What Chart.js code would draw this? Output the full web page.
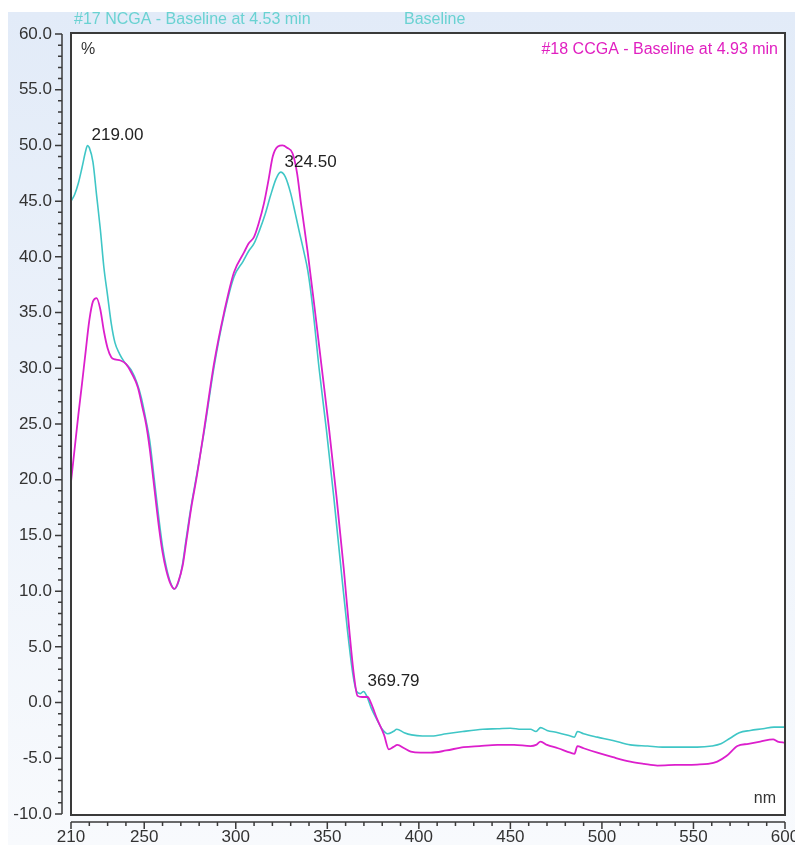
<!DOCTYPE html>
<html lang="en">
<head>
<meta charset="UTF-8">
<title>NCGA / CCGA UV spectra</title>
<script src="https://cdn.jsdelivr.net/npm/chart.js@4.4.1/dist/chart.umd.min.js"></script>
<style>
  html, body { margin: 0; padding: 0; background: #fff; }
  #chart { display: block; }
</style>
</head>
<body>
<canvas id="chart" width="795" height="845"></canvas>
<script>
// #17 NCGA spectrum (nm, %)
const ncgaNm = [210, 212, 214, 216, 218, 219, 220, 222, 224, 226, 228, 230, 232, 234, 236.5, 239, 243, 246, 248.5,
  251, 253, 255.5, 258, 260, 262, 264.5, 266.5, 268.5, 271, 273, 275.5, 278.5, 282.7, 288.2, 293.6, 299, 304, 307, 310,
  313, 316, 319, 322, 324.5, 327, 330, 332.5, 334.5, 337, 339.3, 342, 345.5, 349.5, 353.5, 357.5, 361, 364, 366, 368,
  369.8, 371.5, 374, 377, 380, 383, 386, 388, 392, 396, 402, 407, 415, 424, 435, 443, 450, 456, 461, 464,
  466.5, 470, 476, 482.8, 485, 486.6, 490, 497.5, 506, 515.5, 525, 533, 545, 552, 560, 565, 570, 575, 581, 588, 594, 600]
const ncgaPct = [45.0, 45.6, 46.6, 48.0, 49.5, 50.0, 49.8, 48.5, 45.5, 42.5, 39.0, 36.5, 34.0, 32.3, 31.3, 30.6, 29.8, 28.7, 27.3,
  25.3, 23.5, 20.0, 16.5, 14.0, 12.2, 10.7, 10.2, 10.7, 12.5, 14.8, 17.5, 20.3, 24.3, 30.2, 34.8, 38.2, 39.6, 40.5, 41.2,
  42.4, 43.8, 45.5, 47.0, 47.6, 47.2, 45.7, 43.9, 42.4, 40.6, 38.8, 35.5, 30.0, 24.5, 18.5, 12.0, 6.5, 2.5, 1.0, 0.8,
  1.0, 0.6, -0.5, -1.5, -2.4, -2.8, -2.6, -2.4, -2.7, -2.9, -3.0, -3.0, -2.8, -2.6, -2.4, -2.35, -2.3, -2.4, -2.4, -2.6,
  -2.25, -2.5, -2.7, -3.0, -3.1, -2.6, -2.8, -3.1, -3.4, -3.8, -3.9, -4.0, -4.0, -4.0, -3.9, -3.7, -3.2, -2.7, -2.5, -2.35, -2.2, -2.2]

// #18 CCGA spectrum (nm, %)
const ccgaNm = [210, 212, 214, 216, 218, 220, 222, 224, 226, 228, 230, 232, 234, 237, 240, 243, 246.5, 249, 251, 253,
  255, 258, 260, 262, 264.5, 266.5, 268.5, 271, 273, 276, 278.4, 282.7, 288.2, 293.6, 299, 304.5, 307, 310, 312.5, 315.4,
  318, 320.2, 323, 325.5, 328, 331, 333.5, 335.6, 339.3, 343, 347, 351, 355, 359, 362, 364.5, 366.5, 369, 372, 374,
  377, 381, 383.6, 386, 388.3, 392, 395.6, 401, 406.5, 415, 424.5, 433, 443, 452, 461, 464, 466.5, 470, 476, 482.8,
  485, 486.6, 490, 497.5, 506, 515.5, 523, 530.3, 540, 552, 558, 563, 568, 574, 580, 586.5, 593.5, 596, 600]
const ccgaPct = [19.8, 22.8, 25.8, 28.6, 31.5, 34.3, 36.0, 36.3, 35.3, 33.3, 31.8, 31.0, 30.8, 30.7, 30.4, 29.6, 28.3, 26.5, 25.0, 22.8,
  20.0, 15.8, 13.5, 11.9, 10.6, 10.2, 10.8, 12.3, 14.5, 17.8, 20.0, 24.5, 30.5, 35.0, 38.6, 40.4, 41.2, 41.8, 43.0, 44.8,
  47.0, 49.0, 49.9, 50.0, 49.8, 49.3, 47.5, 44.8, 40.4, 35.5, 30.0, 24.5, 18.5, 12.0, 6.5, 2.5, 0.6, 0.5, 0.5, -0.1,
  -1.4, -2.9, -4.2, -4.0, -3.8, -4.1, -4.4, -4.5, -4.5, -4.3, -4.0, -3.9, -3.8, -3.8, -3.9, -3.8, -3.5, -3.8, -4.1, -4.5,
  -4.6, -3.9, -4.1, -4.5, -4.9, -5.3, -5.5, -5.65, -5.6, -5.56, -5.5, -5.3, -4.8, -3.9, -3.7, -3.5, -3.3, -3.5, -3.6]

// axis ticks
const xTicks = [210, 250, 300, 350, 400, 450, 500, 550, 600]
const yTicks = [-10, -5, 0, 5, 10, 15, 20, 25, 30, 35, 40, 45, 50, 55, 60]

// peak annotations
const peakNm = [219, 324.5, 369.8]
const peakPct = [50.0, 47.6, 1.0]
const peakText = ['219.00', '324.50', '369.79']

const FONT = '"Liberation Sans", Arial, sans-serif'
const CYAN = '#3fc6c6'
const MAGENTA = '#dc1fcc'

const toPoints = (xs, ys) => xs.map((x, i) => ({ x: x, y: ys[i] }))

const frame = {
  id: 'frame',
  beforeDraw(chart) {
    const { ctx, chartArea: a } = chart
    ctx.save()
    ctx.fillStyle = '#fff'
    ctx.fillRect(0, 0, chart.width, chart.height)
    const g = ctx.createLinearGradient(0, 12, 0, chart.height)
    g.addColorStop(0, '#e2ebf8')
    g.addColorStop(1, '#f8fafd')
    ctx.fillStyle = g
    ctx.fillRect(8, 12, chart.width - 8, chart.height - 12)
    ctx.fillStyle = '#fff'
    ctx.fillRect(a.left, a.top, a.right - a.left, a.bottom - a.top)
    ctx.restore()
  },
  afterDatasetsDraw(chart) {
    const { ctx, chartArea: a } = chart
    const xs = chart.scales.x
    const ys = chart.scales.y
    ctx.save()
    // plot frame
    ctx.strokeStyle = '#3a3a3a'
    ctx.lineWidth = 2
    ctx.strokeRect(a.left, a.top - 1, a.right - a.left, a.bottom - a.top + 2)

    // y axis line with major/minor ticks
    ctx.lineWidth = 1.5
    const ax = a.left - 9
    ctx.beginPath()
    ctx.moveTo(ax, ys.getPixelForValue(60))
    ctx.lineTo(ax, ys.getPixelForValue(-10))
    for (let v = -10; v <= 60; v++) {
      const py = ys.getPixelForValue(v)
      const len = v % 5 === 0 ? 7 : 4
      ctx.moveTo(ax - len, py)
      ctx.lineTo(ax, py)
    }
    // x axis line with major/minor ticks
    const ay = a.bottom + 8
    ctx.moveTo(xs.getPixelForValue(210), ay)
    ctx.lineTo(xs.getPixelForValue(600), ay)
    for (let v = 210; v <= 600; v += 10) {
      const px = xs.getPixelForValue(v)
      const len = (v % 50 === 0 || v === 210) ? 7 : 4
      ctx.moveTo(px, ay)
      ctx.lineTo(px, ay + len)
    }
    ctx.stroke()

    // peak labels
    ctx.font = '17px ' + FONT
    ctx.fillStyle = '#222'
    ctx.textBaseline = 'middle'
    ctx.textAlign = 'left'
    peakNm.forEach((nm, i) => {
      ctx.fillText(peakText[i], xs.getPixelForValue(nm) + 4, ys.getPixelForValue(peakPct[i]) - 10)
    })

    // headers and units
    ctx.font = '16px ' + FONT
    ctx.fillStyle = '#6ad2d2'
    ctx.fillText('#17 NCGA - Baseline at 4.53 min', 74, 20)
    ctx.fillText('Baseline', 404, 20)
    ctx.fillStyle = '#333'
    ctx.fillText('%', a.left + 10, 50)
    ctx.textAlign = 'right'
    ctx.fillStyle = '#e020c0'
    ctx.fillText('#18 CCGA - Baseline at 4.93 min', a.right - 7, 50)
    ctx.fillStyle = '#333'
    ctx.fillText('nm', a.right - 9, a.bottom - 15)
    ctx.restore()
  }
}

new Chart(document.getElementById('chart'), {
  type: 'line',
  data: {
    datasets: [
      {
        label: '#18 CCGA',
        data: toPoints(ccgaNm, ccgaPct),
        borderColor: MAGENTA,
        borderWidth: 1.8,
        pointRadius: 0,
        cubicInterpolationMode: 'monotone',
        fill: false
      },
      {
        label: '#17 NCGA',
        data: toPoints(ncgaNm, ncgaPct),
        borderColor: CYAN,
        borderWidth: 1.6,
        pointRadius: 0,
        cubicInterpolationMode: 'monotone',
        fill: false
      }
    ]
  },
  options: {
    responsive: false,
    animation: false,
    events: [],
    layout: { padding: { top: 34, right: 10, left: 0, bottom: 0 } },
    plugins: {
      legend: { display: false },
      tooltip: { enabled: false }
    },
    scales: {
      x: {
        type: 'linear',
        min: 210,
        max: 600,
        grid: { display: false, drawTicks: false },
        border: { display: false },
        afterBuildTicks: s => { s.ticks = xTicks.map(v => ({ value: v })) },
        afterFit: s => { s.height = 31; s.paddingLeft = 0; s.paddingRight = 0 },
        ticks: {
          autoSkip: false,
          maxRotation: 0,
          padding: 15,
          color: '#333',
          font: { family: FONT, size: 17, lineHeight: 1 },
          callback: v => String(v)
        }
      },
      y: {
        type: 'linear',
        min: -10,
        max: 60,
        grid: { display: false, drawTicks: false },
        border: { display: false },
        afterBuildTicks: s => { s.ticks = yTicks.map(v => ({ value: v })) },
        afterFit: s => { s.width = 71; s.paddingTop = 0; s.paddingBottom = 0 },
        ticks: {
          autoSkip: false,
          padding: 19,
          color: '#333',
          font: { family: FONT, size: 17 },
          callback: v => v.toFixed(1)
        }
      }
    }
  },
  plugins: [frame]
})
</script>
</body>
</html>
